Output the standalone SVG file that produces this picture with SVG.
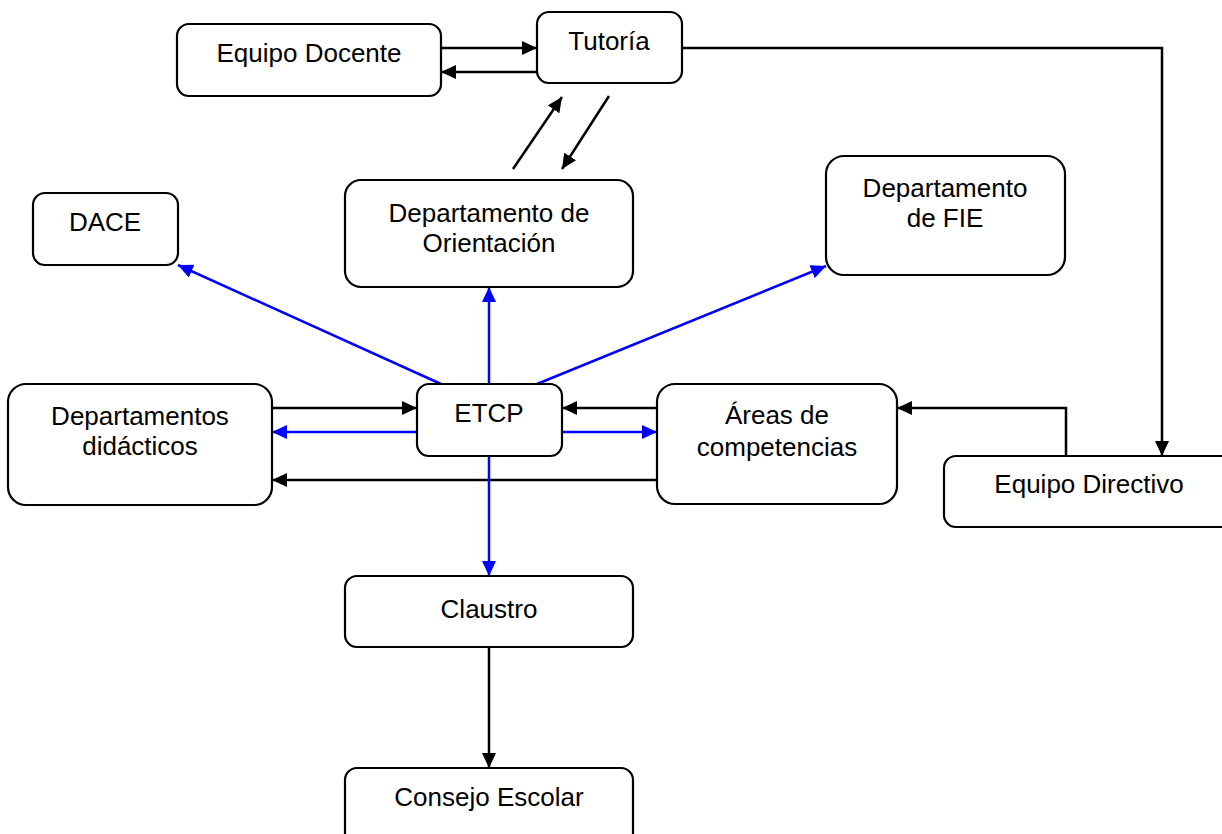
<svg xmlns="http://www.w3.org/2000/svg" width="1222" height="834" viewBox="0 0 1222 834">
<style>
.box{fill:#fff;stroke:#000;stroke-width:2.2}
.t{font-family:"Liberation Sans",Arial,sans-serif;font-size:26px;fill:#000;text-anchor:middle}
.k{fill:none;stroke:#000;stroke-width:2.5}
.b{fill:none;stroke:#0000ff;stroke-width:2.5}
</style>
<defs>
<marker id="ak" viewBox="0 0 15 14" refX="15" refY="7" markerWidth="15" markerHeight="14" markerUnits="userSpaceOnUse" orient="auto"><path d="M0,0 L15,7 L0,14 z" fill="#000"/></marker>
<marker id="ab" viewBox="0 0 15 14" refX="15" refY="7" markerWidth="15" markerHeight="14" markerUnits="userSpaceOnUse" orient="auto"><path d="M0,0 L15,7 L0,14 z" fill="#0000ff"/></marker>
</defs>
<rect width="1222" height="834" fill="#fff"/>
<g id="connectors">
<line class="k" x1="441" y1="48" x2="537" y2="48" marker-end="url(#ak)"/>
<line class="k" x1="537" y1="72" x2="441" y2="72" marker-end="url(#ak)"/>
<line class="k" x1="513" y1="169" x2="562" y2="97" marker-end="url(#ak)"/>
<line class="k" x1="609" y1="96" x2="562" y2="169" marker-end="url(#ak)"/>
<polyline class="k" points="682,48 1162,48 1162,456" marker-end="url(#ak)"/>
<polyline class="k" points="1066,456 1066,408 897,408" marker-end="url(#ak)"/>
<line class="b" x1="441" y1="384" x2="178" y2="265" marker-end="url(#ab)"/>
<line class="b" x1="489" y1="384" x2="489" y2="287" marker-end="url(#ab)"/>
<line class="b" x1="537" y1="384" x2="826" y2="266" marker-end="url(#ab)"/>
<line class="k" x1="272" y1="408" x2="417" y2="408" marker-end="url(#ak)"/>
<line class="k" x1="657" y1="408" x2="562" y2="408" marker-end="url(#ak)"/>
<line class="b" x1="417" y1="432" x2="272" y2="432" marker-end="url(#ab)"/>
<line class="b" x1="562" y1="432" x2="657" y2="432" marker-end="url(#ab)"/>
<line class="k" x1="657" y1="480" x2="272" y2="480" marker-end="url(#ak)"/>
<line class="b" x1="489" y1="456" x2="489" y2="576" marker-end="url(#ab)"/>
<line class="k" x1="489" y1="647" x2="489" y2="768" marker-end="url(#ak)"/>
</g>
<g id="equipo-docente"><rect class="box" x="177" y="24" width="264" height="72" rx="12"/><text class="t" x="309" y="62">Equipo Docente</text></g>
<g id="tutoria"><rect class="box" x="537" y="12" width="145" height="71" rx="12"/><text class="t" x="609" y="50">Tutoría</text></g>
<g id="dace"><rect class="box" x="33" y="193" width="145" height="72" rx="12"/><text class="t" x="105" y="231">DACE</text></g>
<g id="dep-orientacion"><rect class="box" x="345" y="180" width="288" height="107" rx="16"/><text class="t" x="489" y="222">Departamento de</text><text class="t" x="489" y="252">Orientación</text></g>
<g id="dep-fie"><rect class="box" x="826" y="156" width="239" height="119" rx="18"/><text class="t" x="945" y="197">Departamento</text><text class="t" x="945" y="227">de FIE</text></g>
<g id="dep-didacticos"><rect class="box" x="8" y="384" width="264" height="121" rx="18"/><text class="t" x="140" y="425">Departamentos</text><text class="t" x="140" y="455">didácticos</text></g>
<g id="etcp"><rect class="box" x="417" y="384" width="145" height="72" rx="12"/><text class="t" x="489" y="422">ETCP</text></g>
<g id="areas"><rect class="box" x="657" y="384" width="240" height="120" rx="18"/><text class="t" x="777" y="424">Áreas de</text><text class="t" x="777" y="456">competencias</text></g>
<g id="equipo-directivo"><rect class="box" x="944" y="456" width="292" height="71" rx="12"/><text class="t" x="1089" y="493">Equipo Directivo</text></g>
<g id="claustro"><rect class="box" x="345" y="576" width="288" height="71" rx="12"/><text class="t" x="489" y="618">Claustro</text></g>
<g id="consejo-escolar"><rect class="box" x="345" y="768" width="288" height="80" rx="12"/><text class="t" x="489" y="806">Consejo Escolar</text></g>
</svg>
